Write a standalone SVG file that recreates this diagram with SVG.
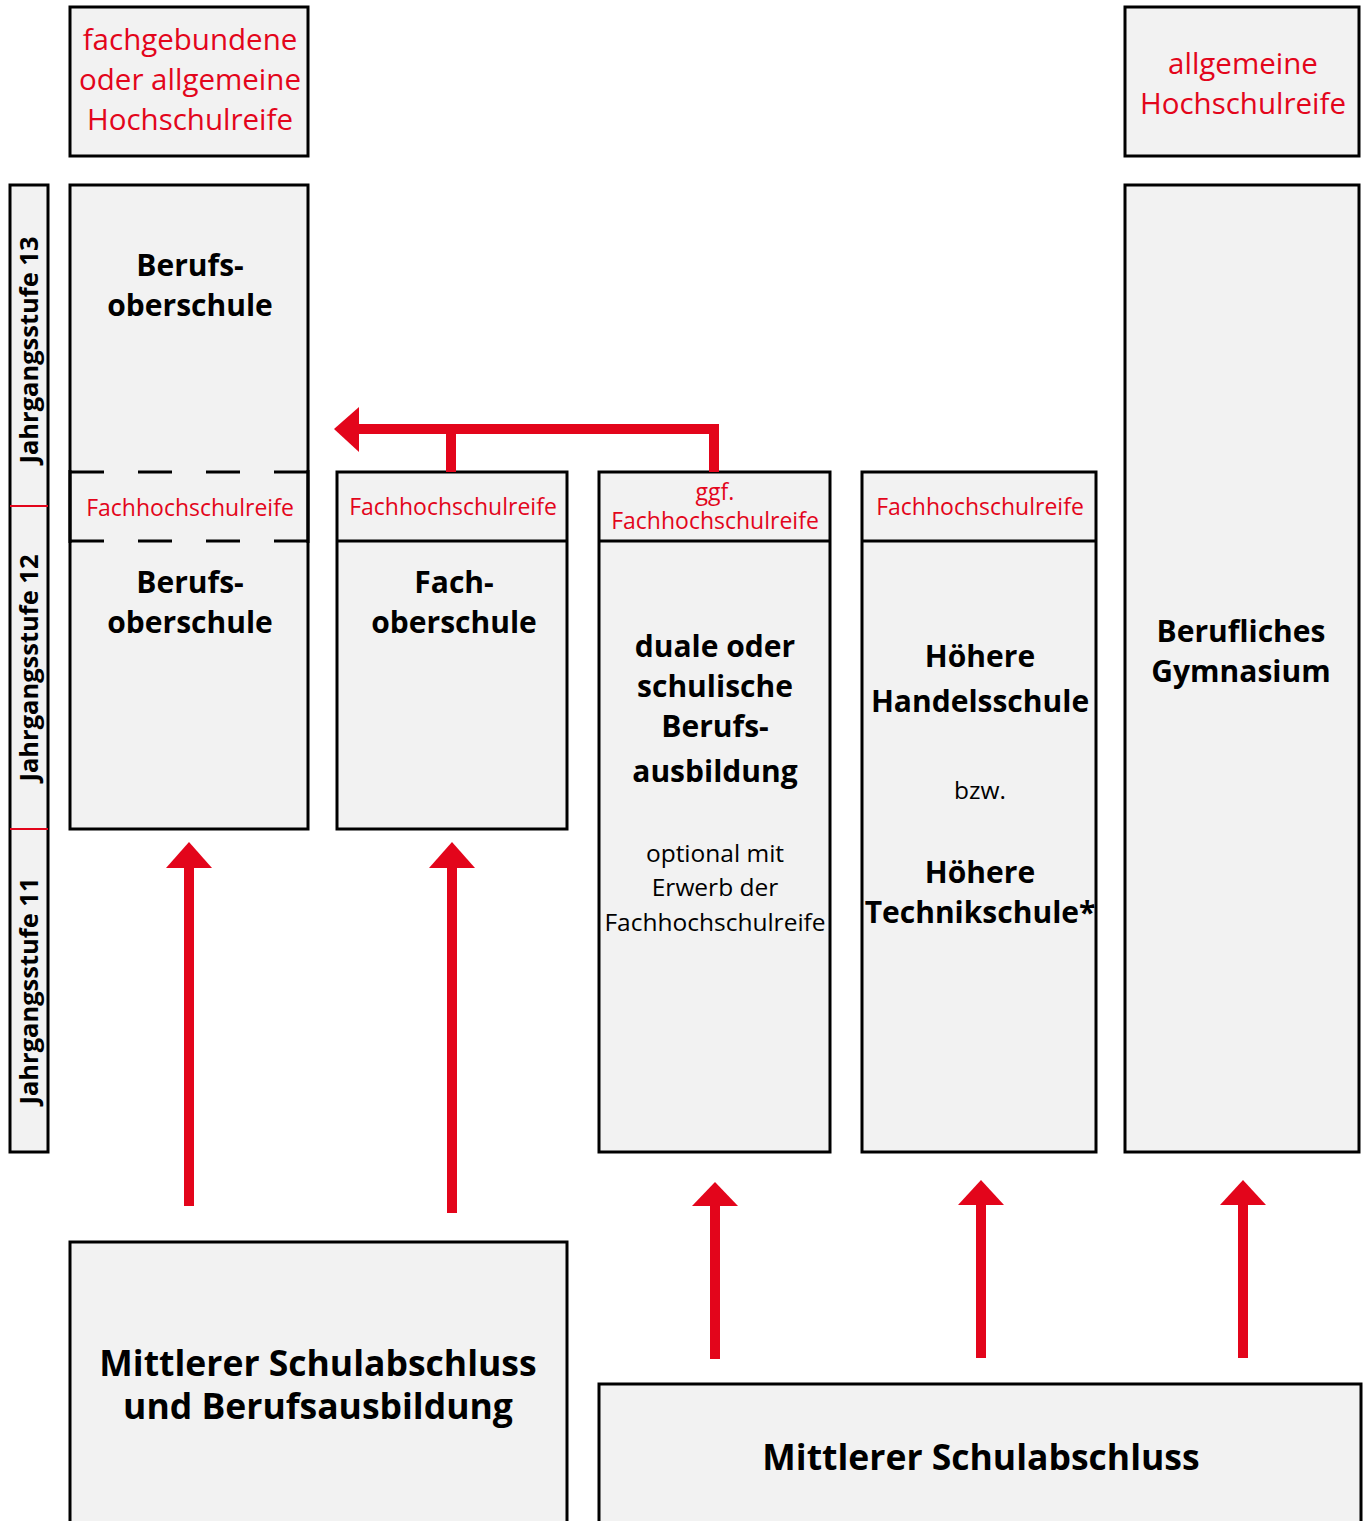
<svg xmlns="http://www.w3.org/2000/svg" width="1364" height="1521" viewBox="0 0 1364 1521">
<defs>
<style>
.box{fill:#f2f2f2;stroke:#000;stroke-width:3}
.div{stroke:#000;stroke-width:3;fill:none}
.dash{stroke:#000;stroke-width:3;fill:none;stroke-dasharray:34 34}
.red{fill:#e3051b}
.arr{stroke:#e3051b;stroke-width:10;fill:none}
text{font-family:"Open Sans","Noto Sans",sans-serif;text-anchor:middle}
.rt{fill:#e3051b;font-size:29.5px}
.rs{fill:#e3051b;font-size:23px}
.b{font-weight:bold;font-size:30px;fill:#000}
.bb{font-weight:bold;font-size:35.5px;fill:#000}
.n{font-size:24.5px;fill:#000}
.v{font-weight:bold;font-size:25.5px;fill:#000}
</style>
</defs>
<g id="jahrgang">
<rect class="box" x="10" y="185" width="38" height="967"/>
<line x1="10" y1="506" x2="48" y2="506" stroke="#e3051b" stroke-width="2"/>
<line x1="10" y1="829" x2="48" y2="829" stroke="#e3051b" stroke-width="2"/>
<text class="v" transform="translate(38,350) rotate(-90)">Jahrgangsstufe 13</text>
<text class="v" transform="translate(38,668) rotate(-90)">Jahrgangsstufe 12</text>
<text class="v" transform="translate(38,991) rotate(-90)">Jahrgangsstufe 11</text>
</g>
<g id="hochschulreife-links">
<rect class="box" x="70" y="7" width="238" height="149"/>
<text class="rt" x="190" y="50">fachgebundene</text>
<text class="rt" x="190" y="90">oder allgemeine</text>
<text class="rt" x="190" y="130">Hochschulreife</text>
</g>
<g id="hochschulreife-rechts">
<rect class="box" x="1125" y="7" width="234" height="149"/>
<text class="rt" x="1243" y="74">allgemeine</text>
<text class="rt" x="1243" y="114">Hochschulreife</text>
</g>
<g id="berufsoberschule">
<rect class="box" x="70" y="185" width="238" height="644"/>
<rect x="72" y="473" width="234" height="67" fill="#f2f2f2"/>
<line class="dash" x1="70" y1="472" x2="308" y2="472"/>
<line class="dash" x1="70" y1="541" x2="308" y2="541"/>
<line class="div" x1="70" y1="470" x2="70" y2="543"/>
<line class="div" x1="308" y1="470" x2="308" y2="543"/>
<text class="b" x="190" y="276">Berufs-</text>
<text class="b" x="190" y="316">oberschule</text>
<text class="rs" x="190" y="516">Fachhochschulreife</text>
<text class="b" x="190" y="593">Berufs-</text>
<text class="b" x="190" y="633">oberschule</text>
</g>
<g id="fachoberschule">
<rect class="box" x="337" y="472" width="230" height="357"/>
<line class="div" x1="337" y1="541" x2="567" y2="541"/>
<text class="rs" x="453" y="515">Fachhochschulreife</text>
<text class="b" x="454" y="593">Fach-</text>
<text class="b" x="454" y="633">oberschule</text>
</g>
<g id="berufsausbildung">
<rect class="box" x="599" y="472" width="231" height="680"/>
<line class="div" x1="599" y1="541" x2="830" y2="541"/>
<text class="rs" x="715" y="500">ggf.</text>
<text class="rs" x="715" y="529">Fachhochschulreife</text>
<text class="b" x="715" y="657">duale oder</text>
<text class="b" x="715" y="697">schulische</text>
<text class="b" x="715" y="737">Berufs-</text>
<text class="b" x="715" y="782">ausbildung</text>
<text class="n" x="715" y="862">optional mit</text>
<text class="n" x="715" y="896">Erwerb der</text>
<text class="n" x="715" y="931">Fachhochschulreife</text>
</g>
<g id="hoehere-schulen">
<rect class="box" x="862" y="472" width="234" height="680"/>
<line class="div" x1="862" y1="541" x2="1096" y2="541"/>
<text class="rs" x="980" y="515">Fachhochschulreife</text>
<text class="b" x="980" y="667">Höhere</text>
<text class="b" x="980" y="712">Handelsschule</text>
<text class="n" x="980" y="799">bzw.</text>
<text class="b" x="980" y="883">Höhere</text>
<text class="b" x="980" y="923">Technikschule*</text>
</g>
<g id="berufliches-gymnasium">
<rect class="box" x="1125" y="185" width="234" height="967"/>
<text class="b" x="1241" y="642">Berufliches</text>
<text class="b" x="1241" y="682">Gymnasium</text>
</g>
<g id="msa-berufsausbildung">
<rect class="box" x="70" y="1242" width="497" height="290"/>
<text class="bb" x="318" y="1376">Mittlerer Schulabschluss</text>
<text class="bb" x="318" y="1419">und Berufsausbildung</text>
</g>
<g id="msa">
<rect class="box" x="599" y="1384" width="762" height="150"/>
<text class="bb" x="981" y="1470">Mittlerer Schulabschluss</text>
</g>
<g id="connectors">
<polyline class="arr" points="451,472 451,429 714,429 714,472"/>
<line class="arr" x1="359" y1="429" x2="451" y2="429"/>
<polygon class="red" points="334,429 359,407 359,452"/>
<line class="arr" x1="189" y1="1206" x2="189" y2="866"/>
<polygon class="red" points="189,842 166,868 212,868"/>
<line class="arr" x1="452" y1="1213" x2="452" y2="866"/>
<polygon class="red" points="452,842 429,868 475,868"/>
<line class="arr" x1="715" y1="1359" x2="715" y2="1204"/>
<polygon class="red" points="715,1182 692,1206 738,1206"/>
<line class="arr" x1="981" y1="1358" x2="981" y2="1202"/>
<polygon class="red" points="981,1180 958,1205 1004,1205"/>
<line class="arr" x1="1243" y1="1358" x2="1243" y2="1202"/>
<polygon class="red" points="1243,1180 1220,1205 1266,1205"/>
</g>
</svg>
